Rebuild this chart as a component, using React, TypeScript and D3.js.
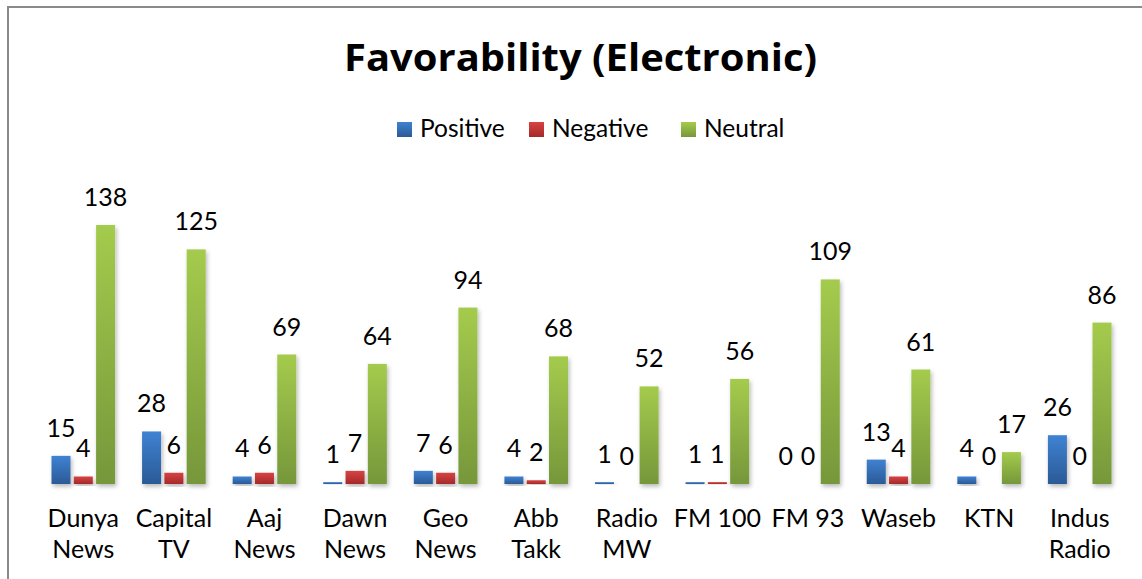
import React from "react";
import * as d3 from "d3";

const categories = [
  ["Dunya", "News"],
  ["Capital", "TV"],
  ["Aaj", "News"],
  ["Dawn", "News"],
  ["Geo", "News"],
  ["Abb", "Takk"],
  ["Radio", "MW"],
  ["FM 100"],
  ["FM 93"],
  ["Waseb"],
  ["KTN"],
  ["Indus", "Radio"],
];
const seriesNames = ["Positive", "Negative", "Neutral"];
const positive = [15, 28, 4, 1, 7, 4, 1, 1, 0, 13, 4, 26];
const negative = [4, 6, 6, 7, 6, 2, 0, 1, 0, 4, 0, 0];
const neutral = [138, 125, 69, 64, 94, 68, 52, 56, 109, 61, 17, 86];
const title = "Favorability (Electronic)";

const W = 1142;
const H = 579;
const FONT = "Lato, 'Open Sans', sans-serif";

const gradients = [
  { id: "gPos", top: "#3f82d3", bottom: "#2b5a96" },
  { id: "gNeg", top: "#d84242", bottom: "#a42a2a" },
  { id: "gNeu", top: "#a4cb4d", bottom: "#76973a" },
];

export default function App() {
  const catKeys = categories.map((c) => c.join(" "));
  const values = [positive, negative, neutral];
  const x0 = d3.scaleBand<string>().domain(catKeys).range([38, 1125]).padding(0);
  const bw = x0.bandwidth();
  const x1 = d3
    .scaleBand<string>()
    .domain(seriesNames)
    .range([bw / 2 - 31.8, bw / 2 + 31.8])
    .paddingInner(0.148)
    .paddingOuter(0);
  const y = d3.scaleLinear().domain([0, 138]).range([484, 225]);
  const base = y(0);

  const legendX = [397, 529, 681];

  return (
    <svg
      width={W}
      height={H}
      style={{ position: "absolute", left: 0, top: 0, background: "#fff" }}
    >
      <defs>
        {gradients.map((g) => (
          <linearGradient key={g.id} id={g.id} x1="0" y1="0" x2="0" y2="1">
            <stop offset="0%" stopColor={g.top} />
            <stop offset="100%" stopColor={g.bottom} />
          </linearGradient>
        ))}
        <filter id="shadow" x="-30%" y="-10%" width="160%" height="130%">
          <feDropShadow dx="1.5" dy="2.5" stdDeviation="2.2" floodColor="#000" floodOpacity="0.28" />
        </filter>
      </defs>
      <rect x={8} y={7} width={1160} height={600} fill="#fff" stroke="#8a8a8a" strokeWidth={2} />

      <text
        x={580.5}
        y={71}
        textAnchor="middle"
        fontFamily="'Open Sans', Lato, sans-serif"
        fontWeight="bold"
        fontSize={38}
        textLength={473}
        lengthAdjust="spacingAndGlyphs"
        fill="#000"
      >
        {title}
      </text>

      {seriesNames.map((s, i) => (
        <g key={s} transform={`translate(${legendX[i]},0)`}>
          <rect x={0} y={122} width={15} height={15} fill={`url(#${gradients[i].id})`} />
          <text x={23} y={137} fontFamily={FONT} fontSize={24.5} fill="#000">
            {s}
          </text>
        </g>
      ))}

      <line x1={38} x2={1125} y1={base} y2={base} stroke="#8a8a8a" strokeWidth={2} filter="url(#shadow)" />

      {catKeys.map((k, ci) => (
        <g key={k} transform={`translate(${x0(k)},0)`}>
          {seriesNames.map((s, si) => {
            const v = values[si][ci];
            const bx = x1(s)!;
            const top = y(v);
            return (
              <g key={s}>
                {v > 0 && (
                  <rect
                    x={bx}
                    y={top}
                    width={x1.bandwidth()}
                    height={base - top}
                    fill={`url(#${gradients[si].id})`}
                    filter="url(#shadow)"
                  />
                )}
                <text
                  x={bx + x1.bandwidth() / 2}
                  y={top - 19}
                  textAnchor="middle"
                  fontFamily={FONT}
                  fontSize={25}
                  fill="#000"
                >
                  {v}
                </text>
              </g>
            );
          })}
          {categories[ci].map((line, li) => (
            <text
              key={li}
              x={bw / 2}
              y={527 + li * 31}
              textAnchor="middle"
              fontFamily={FONT}
              fontSize={25}
              fill="#000"
            >
              {line}
            </text>
          ))}
        </g>
      ))}
    </svg>
  );
}
